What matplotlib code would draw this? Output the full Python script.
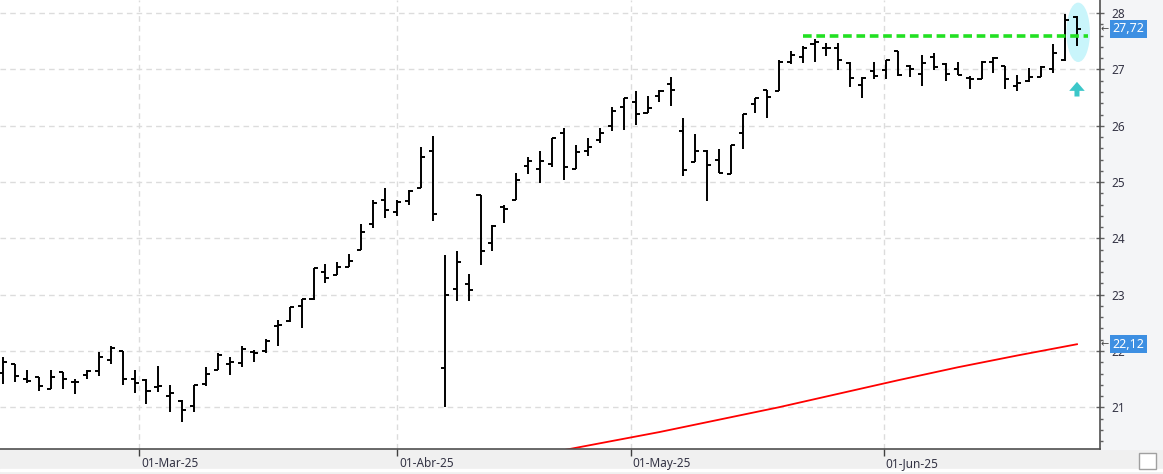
"""Daily OHLC bar chart Feb-Jun 2025 with moving average and breakout marker."""

import matplotlib
matplotlib.use("Agg")
import matplotlib.pyplot as plt  # noqa: E402
import matplotlib.patches as mpatches  # noqa: E402
import matplotlib.transforms as mtransforms  # noqa: E402

# --- data (one bar per trading day, 13-Feb-25 .. 24-Jun-25) ---
opens = [21.61, 21.76, 21.50, 21.53, 21.32, 21.62, 21.45, 21.57, 21.64, 21.84,
         22.00, 21.50, 21.48, 21.36, 21.20, 21.12, 21.02, 21.41, 21.67, 21.76,
         21.78, 21.98, 22.00, 22.44, 22.53, 22.80, 22.92, 23.40, 23.35, 23.49,
         23.79, 24.25, 24.69, 24.47, 24.66, 24.89, 25.56, 21.69, 23.10, 23.19,
         24.77, 23.91, 24.55, 24.69, 25.28, 25.23, 25.32, 25.87, 25.24, 25.56,
         25.74, 25.99, 26.33, 26.42, 26.22, 26.53, 26.74, 25.90, 25.36, 25.56,
         25.39, 25.14, 25.87, 26.39, 26.63, 26.61, 27.14, 27.22, 27.46, 27.38,
         27.39, 27.12, 26.72, 26.98, 26.99, 27.32, 27.06, 26.92, 27.23, 27.10,
         27.00, 26.85, 26.83, 27.14, 27.06, 26.71, 26.80, 26.86, 27.00, 27.17,
         27.94]
highs = [21.90, 21.76, 21.66, 21.54, 21.66, 21.62, 21.51, 21.67, 21.98, 22.08,
         22.00, 21.66, 21.51, 21.73, 21.40, 21.13, 21.40, 21.72, 21.97, 21.89,
         22.08, 22.02, 22.22, 22.55, 22.79, 22.93, 23.47, 23.55, 23.58, 23.72,
         24.26, 24.68, 24.89, 24.68, 24.86, 25.62, 25.82, 23.70, 23.77, 23.37,
         24.77, 24.23, 24.59, 25.16, 25.45, 25.55, 25.79, 25.96, 25.65, 25.78,
         25.96, 26.33, 26.49, 26.62, 26.53, 26.63, 26.87, 26.13, 25.85, 25.57,
         25.58, 25.66, 26.21, 26.49, 26.64, 27.17, 27.32, 27.41, 27.55, 27.47,
         27.47, 27.13, 26.86, 27.14, 27.17, 27.32, 27.08, 27.26, 27.29, 27.11,
         27.14, 26.89, 27.15, 27.23, 27.06, 26.90, 27.03, 27.06, 27.45, 27.99,
         27.95]
lows = [21.41, 21.45, 21.44, 21.29, 21.32, 21.33, 21.23, 21.51, 21.56, 21.76,
        21.40, 21.26, 21.05, 21.28, 20.92, 20.74, 20.92, 21.37, 21.67, 21.57,
        21.72, 21.81, 21.96, 22.09, 22.51, 22.40, 22.90, 23.21, 23.35, 23.49,
        23.79, 24.19, 24.37, 24.39, 24.59, 24.89, 24.30, 21.00, 22.88, 22.88,
        23.52, 23.78, 24.27, 24.68, 25.14, 24.99, 25.26, 25.03, 25.24, 25.47,
        25.69, 25.90, 25.93, 26.02, 26.22, 26.43, 26.36, 25.10, 25.36, 24.67,
        25.17, 25.14, 25.59, 26.22, 26.13, 26.61, 27.09, 27.12, 27.14, 27.24,
        26.99, 26.69, 26.49, 26.83, 26.83, 26.88, 26.87, 26.71, 26.99, 26.80,
        26.90, 26.65, 26.83, 26.94, 26.65, 26.61, 26.78, 26.86, 26.94, 27.15,
        27.41]
closes = [21.80, 21.56, 21.47, 21.37, 21.53, 21.50, 21.45, 21.64, 21.90, 22.06,
          21.50, 21.43, 21.29, 21.38, 21.25, 20.95, 21.40, 21.59, 21.93, 21.80,
          22.03, 21.96, 22.18, 22.46, 22.78, 22.93, 23.47, 23.29, 23.50, 23.60,
          24.11, 24.62, 24.50, 24.65, 24.85, 25.45, 24.44, 22.99, 23.58, 23.08,
          23.77, 24.22, 24.53, 25.03, 25.38, 25.37, 25.78, 25.26, 25.53, 25.62,
          25.88, 26.26, 26.49, 26.21, 26.31, 26.62, 26.63, 25.21, 25.56, 25.30,
          25.17, 25.66, 26.21, 26.49, 26.51, 27.14, 27.26, 27.38, 27.48, 27.38,
          27.17, 26.84, 26.85, 26.88, 27.16, 26.90, 27.01, 27.11, 27.05, 26.92,
          26.90, 26.83, 27.14, 27.20, 26.83, 26.76, 26.87, 27.05, 27.29, 27.87,
          27.72]

# moving average read at a few bars
ma_bars = [47, 50, 55, 60, 65, 70, 75, 80, 85, 90]
ma_vals = [20.24, 20.36, 20.56, 20.78, 21.00, 21.24, 21.48, 21.71, 21.92, 22.12]

resistance = 27.60
resistance_from = 67
last_close = 27.72
last_ma = 22.12

date_ticks = [11.4, 33, 52.6, 73.8]
date_labels = ["01-Mar-25", "01-Abr-25", "01-May-25", "01-Jun-25"]
price_ticks = [21, 22, 23, 24, 25, 26, 27, 28]

W, H = 1163, 474
AX_RIGHT = 1100
AX_BOTTOM = 25

plt.rcParams["font.family"] = ["Noto Sans", "DejaVu Sans"]


def main() -> int:
    fig = plt.figure(figsize=(W / 100, H / 100), dpi=100, facecolor="#f0f0f0")
    # right price panel + thin white line in the bottom strip
    fig.add_artist(mpatches.Rectangle((AX_RIGHT / W, AX_BOTTOM / H), (W - AX_RIGHT) / W,
                                      1 - AX_BOTTOM / H, transform=fig.transFigure,
                                      color="#f4f5f7", zorder=0))
    fig.add_artist(mpatches.Rectangle((0, 3 / H), 1, 2 / H, transform=fig.transFigure,
                                      color="white", zorder=0))
    fig.add_artist(mpatches.Rectangle((1139 / W, 5 / H), 17 / W, 16 / H,
                                      transform=fig.transFigure, facecolor="white",
                                      edgecolor="#a0a0a0", lw=1, zorder=1))

    ax = fig.add_axes([0, AX_BOTTOM / H, AX_RIGHT / W, 1 - AX_BOTTOM / H])
    ax.set_facecolor("white")
    n = len(closes)
    xs = list(range(n))

    # breakout highlight behind the bars
    ax.add_patch(mpatches.Ellipse((90.1, 27.66), 1.85, 1.03, color="#c9f5fb", zorder=1))

    ax.vlines(xs, lows, highs, colors="black", lw=1.4, zorder=3)
    tick = 0.34
    ax.hlines(opens, [x - tick for x in xs], xs, colors="black", lw=1.4, zorder=3)
    ax.hlines(closes, xs, [x + tick for x in xs], colors="black", lw=1.4, zorder=3)

    ax.plot(ma_bars, ma_vals, color="#ff0000", lw=1.3, zorder=2)
    ax.hlines(resistance, resistance_from, n - 0.1, colors="#22e022", lw=2.6,
              linestyles=(0, (2.4, 1.3)), zorder=4)
    ax.add_patch(mpatches.FancyArrow(90, 26.52, 0, 0.26, width=0.42, head_width=1.3,
                                     head_length=0.16, length_includes_head=True,
                                     color="#3cc7c9", lw=0, zorder=4))

    ax.set_xlim(-0.28, 91.93)
    ax.set_ylim(20.259, 28.234)

    ax.grid(True, color="#dcdcdc", linestyle=(0, (4, 3)), lw=1, zorder=0)
    ax.set_axisbelow(True)
    for side in ("top", "left"):
        ax.spines[side].set_visible(False)
    for side in ("bottom", "right"):
        ax.spines[side].set_color("#505050")
        ax.spines[side].set_linewidth(1.2)

    ax.set_xticks(date_ticks)
    ax.set_xticklabels(date_labels, fontsize=8.5, color="#333344")
    ax.tick_params(axis="x", direction="out", length=5, width=1, color="#404040", pad=1)
    offset = mtransforms.ScaledTranslation(2 / 100, 0, fig.dpi_scale_trans)
    for lbl in ax.get_xticklabels():
        lbl.set_ha("left")
        lbl.set_transform(lbl.get_transform() + offset)

    ax.yaxis.tick_right()
    ax.set_yticks(price_ticks)
    ax.set_yticklabels([str(v) for v in price_ticks], fontsize=8.5, color="#333344")
    ax.set_yticks([v / 5 for v in range(102, 141)], minor=True)
    ax.tick_params(axis="y", which="major", direction="inout", length=6, width=1,
                   color="#606060", pad=5)
    ax.tick_params(axis="y", which="minor", direction="out", length=2.5, width=1,
                   color="#606060")

    # last value tags on the price axis
    for val in (last_close, last_ma):
        txt = f"{val:.2f}".replace(".", ",")
        ax.annotate(txt, xy=(1, val), xycoords=ax.get_yaxis_transform(),
                    xytext=(9, 0), textcoords="offset points", va="center", ha="left",
                    fontsize=9, color="white", annotation_clip=False, zorder=6,
                    bbox=dict(boxstyle="square,pad=0.18", fc="#3d8fe2", ec="none"))
        ax.annotate("\u2190", xy=(1, val), xycoords=ax.get_yaxis_transform(),
                    xytext=(0.5, 0), textcoords="offset points", va="center", ha="left",
                    fontsize=7, color="#444444", annotation_clip=False,
                    family="DejaVu Sans")

    fig.savefig("out.png", dpi=100, facecolor=fig.get_facecolor())
    plt.close(fig)
    return 0


if __name__ == "__main__":
    raise SystemExit(main())
